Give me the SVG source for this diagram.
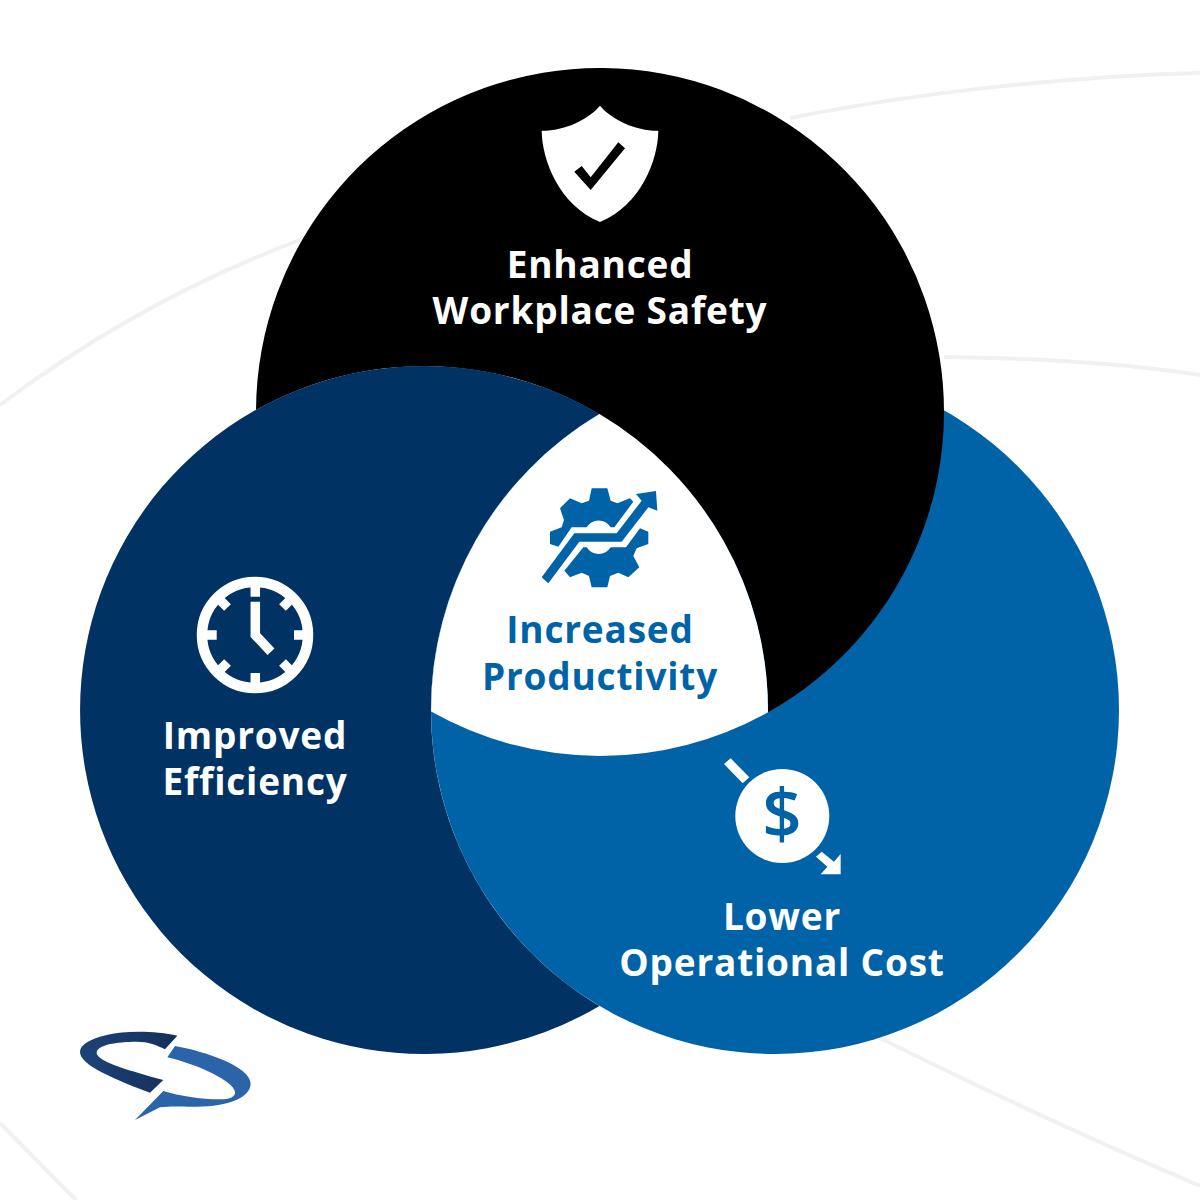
<svg xmlns="http://www.w3.org/2000/svg" width="1200" height="1200" viewBox="0 0 1200 1200">
<defs>
<style>
.t{font-family:"Open Sans","Noto Sans",sans-serif;font-weight:700;font-size:37px;letter-spacing:.8px;text-anchor:middle}
.w{fill:#fff}.b{fill:#0063a8}
.bg{fill:none;stroke:#f1f1f2;stroke-width:4}
.tick{fill:none;stroke:#fff;stroke-width:9.5}
</style>
<linearGradient id="logoDark" x1="0" y1="0" x2="1" y2="0"><stop offset="0" stop-color="#1c4379"/><stop offset="1" stop-color="#142f58"/></linearGradient>
</defs>
<rect width="1200" height="1200" fill="#fff"/>
<g id="background-arcs">
<path class="bg" d="M0 405C80 345 180 285 300 240"/>
<path class="bg" d="M790 118C930 90 1080 76 1200 73"/>
<path class="bg" d="M944 357C1040 358 1130 364 1200 375"/>
<path class="bg" d="M880 1038Q1030 1113 1200 1186"/>
<path class="bg" d="M0 1123Q36 1160 76 1200"/>
</g>
<g id="node-lower-cost">
<circle cx="775" cy="710" r="344" fill="#0063a8"/>
</g>
<g id="node-safety">
<path d="M256 410A344 344 0 1 1 768 712.2A344 344 0 0 0 256 410Z" fill="#000"/>
</g>
<g id="node-efficiency">
<path d="M599.5 414.1A344 344 0 1 0 599.5 1005.9A344 344 0 0 1 599.5 414.1Z" fill="#003363"/>
</g>
<g id="node-productivity">
<path d="M599.5 414.1A344 344 0 0 1 768 712.2A344 344 0 0 1 431.1 711.6A344 344 0 0 1 599.5 414.1Z" fill="#fff"/>
</g>
<g id="safety-content">
<path class="w" d="M600 105.700C612 120 636 131 658.300 130.700C658 160 641 205 600 222C559 205 542 160 541.700 130.700C564 131 588 120 600 105.700Z"/>
<path d="M574.300 171.700L581.700 166L590.700 177.300L618.300 142.300L625 148.300L590.700 190Z" fill="#000"/>
<text class="t w" x="600" y="278">Enhanced</text>
<text class="t w" x="600" y="324">Workplace Safety</text>
</g>
<g id="efficiency-content">
<circle cx="255" cy="635" r="53" fill="none" stroke="#fff" stroke-width="10.500"/>
<path class="tick" d="M255.300 585V596.700M255.300 673V685M205 635H216.700M294 635H305M227.500 607.500L220 600M282.500 607.500L290 600M227.500 662.500L220 670M282.500 662.500L290 670"/>
<path class="tick" d="M255.300 601.700V635L271 651.700"/>
<text class="t w" x="255" y="749">Improved</text>
<text class="t w" x="255" y="795">Efficiency</text>
</g>
<g id="productivity-content">
<g class="b" transform="translate(520 470) scale(.33333)">
<path d="M90 185L125 172L132 150L120 115L150 85L185 100L207 92L215 55H262L272 92L292 100L330 85L340 95L283 172H272A42 42 0 0 0 200 172H155L115 230L90 222Z"/>
<path d="M385 185V222L350 235L340 258L358 292L325 322L295 308L270 318L262 352H215L207 318L185 308L150 322L133 302L190 232H200A42 42 0 0 0 272 232H318L360 175Z"/>
<path d="M65 322L163 190H290L365 92L348 72L408 63L412 122L385 112L305 215H178L85 340Z"/>
</g>
<text class="t b" x="600" y="643">Increased</text>
<text class="t b" x="600" y="690">Productivity</text>
</g>
<g id="cost-content">
<circle cx="782.300" cy="816" r="47" fill="#fff"/>
<g class="w" transform="translate(710 750) scale(.33333)">
<path d="M42 42L62 25L118 82L98 100Z"/>
<path d="M318 320L335 305L372 335L392 312V373H332L352 350Z"/>
</g>
<text x="782" y="838" font-family="Open Sans,Noto Sans,sans-serif" font-weight="600" font-size="69" text-anchor="middle" fill="#0063a8">$</text>
<text class="t w" x="782" y="930">Lower</text>
<text class="t w" x="782" y="976">Operational Cost</text>
</g>
<g id="logo" transform="translate(60 1020) scale(.33333)">
<path d="M352 47C290 33 200 30 140 45C90 57 60 75 60 95C60 130 130 165 270 218L310 180C220 155 110 125 110 98C110 75 170 65 230 65C265 65 290 75 315 88Z" fill="url(#logoDark)"/>
<path d="M345 78C440 95 570 140 572 190C572 235 500 262 400 260C360 260 330 258 300 262L225 300L310 213C360 228 420 238 480 238C510 238 527 230 525 215C520 185 420 135 322 112Z" fill="#2b64a8"/>
</g>
</svg>
